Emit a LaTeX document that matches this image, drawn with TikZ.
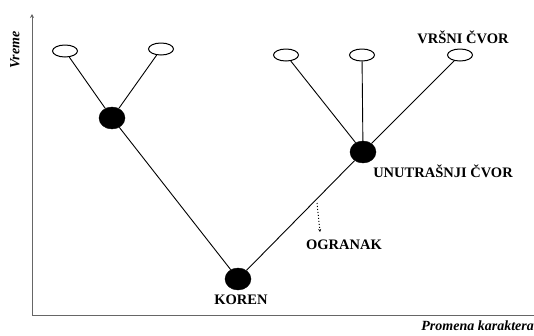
\documentclass[tikz,border=0pt]{standalone}
\usepackage{fontspec}
\setmainfont{Liberation Serif}
\usetikzlibrary{shapes.geometric,arrows.meta}
\begin{document}
\begin{tikzpicture}[x=1pt,y=-1pt,
  leaf/.style={draw,ellipse,line width=1pt,minimum width=25pt,minimum height=12pt,inner sep=0pt,fill=white},
  inner/.style={draw,ellipse,fill=black,minimum width=26pt,minimum height=22pt,inner sep=0pt},
  branch/.style={line width=0.9pt},
  axis/.style={line width=1pt,draw=black!60},
  lbl/.style={font=\fontsize{14.5}{16}\selectfont\bfseries,inner sep=0pt}]
\useasboundingbox (0,0) rectangle (534,335);
% axes
\coordinate (o) at (32,315);
\coordinate (ytop) at (32,14);
\coordinate (xend) at (534,315);
\draw[axis,-{Stealth[length=4pt,width=4pt]}] (o) -- (ytop);
\draw[axis] (o) -- (xend);
\node[lbl,font=\fontsize{14}{16}\selectfont\bfseries\itshape,rotate=90] (yl) at (15,50) {Vreme};
\node[lbl,font=\fontsize{14}{16}\selectfont\bfseries\itshape,anchor=east] (xl) at (534,326) {Promena karaktera};
% nodes
\node[inner] (n1) at (112,118) {};
\node[inner] (n2) at (363,152) {};
\node[inner] (r) at (238,279) {};
% branches
\draw[branch] (n1) -- (r) -- (n2);
\node[leaf] (a) at (65,51) {};
\node[leaf] (b) at (161,49) {};
\node[leaf] (c) at (286,55) {};
\node[leaf] (d) at (362,55) {};
\node[leaf] (e) at (460,55) {};
\draw[branch] (a) -- (n1) -- (b);
\draw[branch] (c) -- (n2) -- (e);
\draw[branch] (d) -- (n2);
% labels
\node[lbl] (vl) at (463,37) {VRŠNI ČVOR};
\node[lbl] (ul) at (443,171) {UNUTRAŠNJI ČVOR};
\node[lbl] (ol) at (344,245) {OGRANAK};
\node[lbl] (kl) at (241,300) {KOREN};
\coordinate (os) at (317,203);
\coordinate (oe) at (320,232);
\draw[line width=1pt,dotted,-{Stealth[length=3pt,width=3pt]}] (os) -- (oe);
\end{tikzpicture}
\end{document}
